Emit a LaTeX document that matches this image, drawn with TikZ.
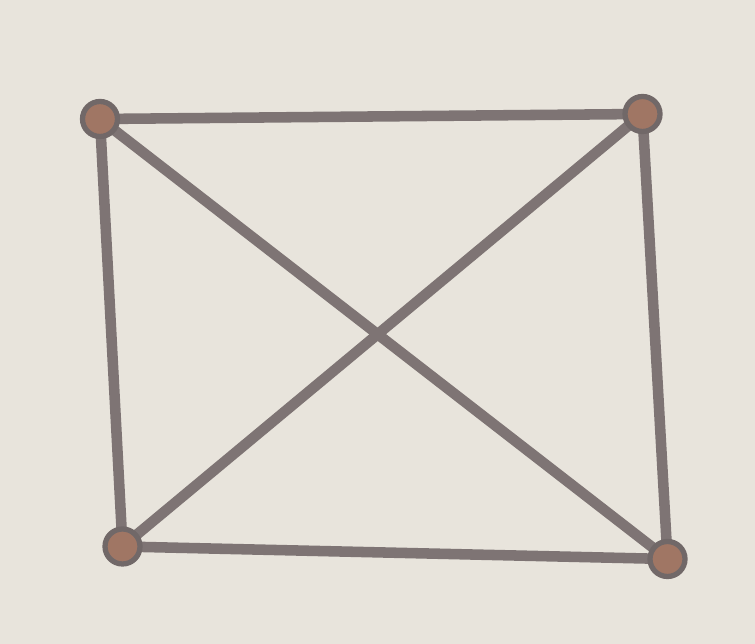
\documentclass[tikz,border=0pt]{standalone}
\usetikzlibrary{backgrounds}
\definecolor{paper}{RGB}{232,228,220}
\definecolor{pencil}{RGB}{126,116,116}
\definecolor{rust}{RGB}{160,118,100}
\begin{document}
\begin{tikzpicture}[vtx/.style={circle,draw=pencil!90!black,fill=rust,line width=3pt,minimum size=0.7cm,inner sep=0pt},
  edge/.style={draw=pencil,line width=6pt,line cap=round}]
\node[vtx] (a) at (2.0,10.5) {};
\node[vtx] (b) at (12.85,10.6) {};
\node[vtx] (c) at (2.45,1.95) {};
\node[vtx] (d) at (13.35,1.7) {};
\begin{scope}[on background layer]
\fill[paper] (0,0) rectangle (15.1,12.88);
\draw[edge] (a.center) -- (b.center);
\draw[edge] (a.center) -- (c.center);
\draw[edge] (b.center) -- (d.center);
\draw[edge] (c.center) -- (d.center);
\draw[edge] (a.center) -- (d.center);
\draw[edge] (b.center) -- (c.center);
\end{scope}
\end{tikzpicture}
\end{document}
